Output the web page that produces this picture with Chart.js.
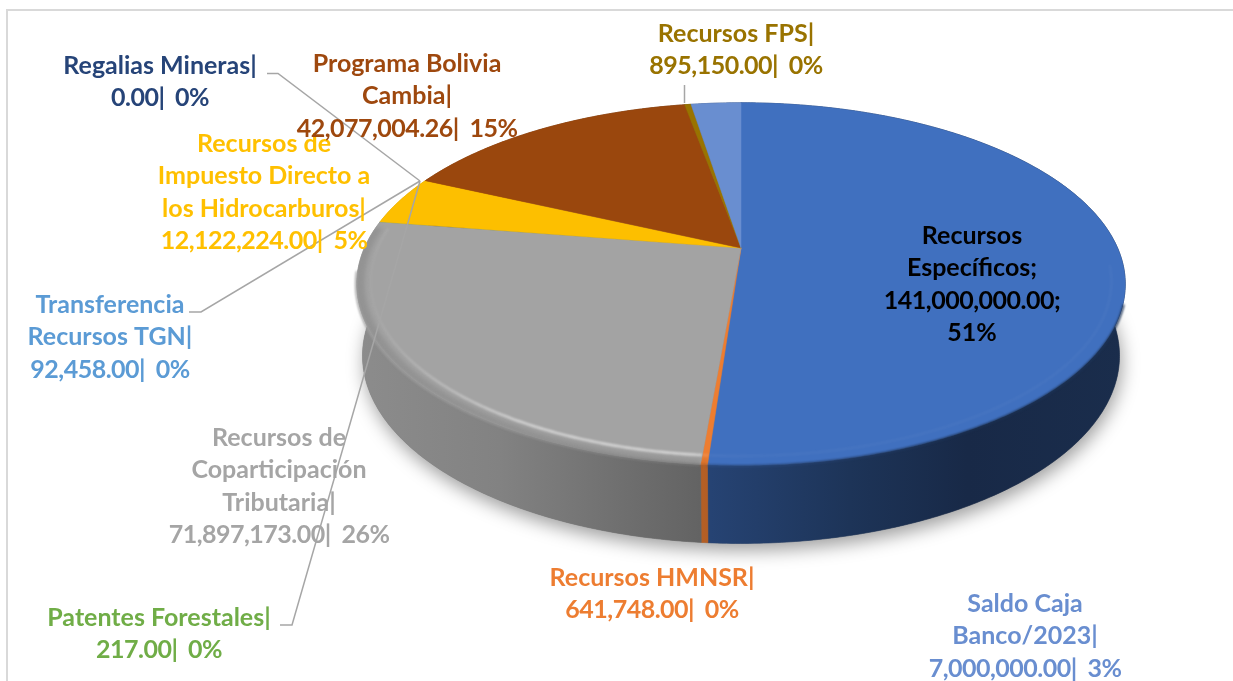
<!DOCTYPE html>
<html><head><meta charset="utf-8">
<style>html,body{margin:0;padding:0;background:#fff;overflow:hidden}canvas{display:block}</style>
<script src="https://cdn.jsdelivr.net/npm/chart.js@4/dist/chart.umd.min.js"></script>
</head><body><canvas id="c" width="1233" height="681"></canvas>
<script>
const categories=["Recursos Específicos","Recursos HMNSR","Recursos de Coparticipación Tributaria","Patentes Forestales","Transferencia Recursos TGN","Recursos de Impuesto Directo a los Hidrocarburos","Regalias Mineras","Programa Bolivia Cambia","Recursos FPS","Saldo Caja Banco/2023"];
const values=[141000000,641748,71897173,217,92458,12122224,0,42077004.26,895150,7000000];
const sliceColors=["#4070BF","#ED7D31","#A3A3A3","#70AD47","#5B9BD5","#FDBF00","#264478","#9A470D","#997300","#698ED0"];
const labelLines=[
 ["Recursos","Específicos;","141,000,000.00;","51%"],
 ["Recursos HMNSR|","641,748.00| 0%"],
 ["Recursos de","Coparticipación","Tributaria|","71,897,173.00| 26%"],
 ["Patentes Forestales|","217.00| 0%"],
 ["Transferencia","Recursos TGN|","92,458.00| 0%"],
 ["Recursos de","Impuesto Directo a","los Hidrocarburos|","12,122,224.00| 5%"],
 ["Regalias Mineras|","0.00| 0%"],
 ["Programa Bolivia","Cambia|","42,077,004.26| 15%"],
 ["Recursos FPS|","895,150.00| 0%"],
 ["Saldo Caja","Banco/2023|","7,000,000.00| 3%"]
];
const labelColors=["#000000","#ED7D31","#A5A5A5","#70AD47","#5B9BD5","#FFC000","#264478","#9E480E","#997300","#698ED0"];
// label anchors: centre x and first baseline
const labelAnchors=[[972,244],[652,586],[279,446],[159,626],[110,313],[264,152],[160,74],[407,72],[736,42],[1025,612]];
const LINE_H=32.4, FONT='bold 25px Lato';
const leaders=[[[267,73.5],[278,73.5],[420,181]],[[189,312],[201,312],[420,181]],[[280,625],[292,625],[420,181]],[[684.5,85],[684.5,103]]];
// projection of the pie disc
const K=0.199, CY_TOP=248, CY_BOT=318.4, SX=1.106, SY=0.5115, BOT_X=0.985, BOT_Y=1.035;
const shadeStops=[[357,.86],[500,.80],[700,.61],[710,.60],[850,.46],[967,.37],[1125,.40]];
const rimAlpha=[.06,.15,.6,0,0,0,0,0,0,0];

function rgb(h){return [1,3,5].map(i=>parseInt(h.substr(i,2),16));}
function shade(h,f){const c=rgb(h).map(v=>Math.min(255,Math.round(v*f)));return `rgb(${c[0]},${c[1]},${c[2]})`;}

const pie3d={id:'pie3d',
 beforeDraw(chart){
  const c=chart.ctx;c.save();c.fillStyle='#fff';c.fillRect(0,0,1233,681);
  c.fillStyle='#d9d9d9';c.fillRect(6,9,1227,2);c.fillRect(6,9,2,672);c.restore();
 },
 beforeDatasetsDraw(chart){
  const c=chart.ctx, arcs=chart.getDatasetMeta(0).data, a0=arcs[0];
  const cx=a0.x, rx=a0.outerRadius*SX, ry=a0.outerRadius*SY;
  const top=(a,t=1)=>{const u=Math.cos(a)*t,v=Math.sin(a)*t,w=1-K*v;return [cx+rx*u/w,CY_TOP+ry*v/w];};
  const bot=(a)=>{const u=Math.cos(a),v=Math.sin(a),w=1-K*v;return [cx+rx*BOT_X*u/w,CY_BOT+ry*BOT_Y*v/w];};
  const steps=(s,e)=>{const n=Math.max(1,Math.ceil((e-s)/0.01)),o=[];for(let i=0;i<=n;i++)o.push(s+(e-s)*i/n);return o;};
  const trace=(pts)=>pts.forEach((p,i)=>i?c.lineTo(p[0],p[1]):c.moveTo(p[0],p[1]));
  const wedge=(s,e)=>{c.beginPath();c.moveTo(cx,CY_TOP);steps(s,e).forEach(a=>{const p=top(a);c.lineTo(p[0],p[1]);});c.closePath();};
  const wallGrad=(i,boost)=>{const g=c.createLinearGradient(357,0,1125,0);
   shadeStops.forEach(([x,f])=>g.addColorStop((x-357)/768,shade(sliceColors[i],f*boost)));return g;};
  // soft drop shadow under the base
  c.save();c.shadowColor='rgba(0,0,0,.38)';c.shadowBlur=18;c.shadowOffsetY=7;c.shadowOffsetX=2;c.fillStyle='#777';
  c.beginPath();trace(steps(0,Math.PI*2).map(bot));c.closePath();c.fill();c.restore();
  // side wall
  arcs.forEach((arc,i)=>{
   if(arc.endAngle-arc.startAngle<=0.002)return;
   const as=steps(arc.startAngle,arc.endAngle);
   const g=wallGrad(i,i===1?1.25:1);
   c.fillStyle=g;c.strokeStyle=g;c.lineWidth=.6;
   c.beginPath();trace(as.map(a=>top(a)).concat(as.slice().reverse().map(bot)));c.closePath();c.fill();c.stroke();
  });
  // top face
  arcs.forEach((arc,i)=>{
   const span=arc.endAngle-arc.startAngle;
   if(span<=0)return;
   c.fillStyle=c.strokeStyle=sliceColors[i];c.lineWidth=.5;
   wedge(arc.startAngle,arc.endAngle);c.fill();
   if(span>0.005)c.stroke();
  });
  // bevel along the front of the rim
  const FS=0.1,FE=Math.PI+0.12;
  arcs.forEach((arc,i)=>{
   const s=Math.max(arc.startAngle,FS),e=Math.min(arc.endAngle,FE);
   if(e<=s||arc.endAngle-arc.startAngle<0.002)return;
   const as=steps(s,e);
   // soft edge into the wall
   c.save();wedge(arc.startAngle,arc.endAngle);c.clip();
   if(rimAlpha[i]>.1){
    c.filter='blur(2px)';
    c.beginPath();trace(as.map(a=>top(a,1.01)).concat(as.slice().reverse().map(a=>top(a,.98))));c.closePath();
    c.fillStyle=shade(sliceColors[i],.9);c.fill();
   }
   // highlight, fading away from the front
   if(rimAlpha[i]>0){
    c.filter='blur(1.2px)';
    const g=c.createLinearGradient(360,0,760,0),A=rimAlpha[i];
    g.addColorStop(0,'rgba(255,255,255,0)');g.addColorStop(.12,`rgba(255,255,255,${A*.25})`);
    g.addColorStop(.4,`rgba(255,255,255,${A*.9})`);g.addColorStop(.8,`rgba(255,255,255,${A})`);g.addColorStop(1,`rgba(255,255,255,${A*.6})`);
    c.strokeStyle=g;c.lineWidth=2.4;c.beginPath();trace(as.map(x=>top(x,.965)));c.stroke();
   }
   c.restore();
   c.save();c.filter='blur(1.2px)';c.lineWidth=2;c.strokeStyle=wallGrad(i,i===1?1.25:1.15);
   c.beginPath();trace(as.filter(a=>a>0.3&&a<Math.PI-0.12).map(a=>top(a,1.002)));c.stroke();c.restore();
  });
  return false;
 },
 afterDraw(chart){
  const c=chart.ctx;
  c.save();c.strokeStyle='#a6a6a6';c.lineWidth=1.5;c.lineJoin='miter';
  leaders.forEach(l=>{c.beginPath();l.forEach((p,i)=>i?c.lineTo(p[0],p[1]):c.moveTo(p[0],p[1]));c.stroke();});
  c.font=FONT;c.textAlign='center';c.textBaseline='alphabetic';
  labelLines.forEach((ls,i)=>{
   c.fillStyle=labelColors[i];
   ls.forEach((t,j)=>{
    const numeric=/^[\d,.]+[|;]/.test(t);
    c.letterSpacing=numeric?'-0.5px':'0px';
    c.wordSpacing=numeric?'5px':'0px';
    c.fillText(t,labelAnchors[i][0],labelAnchors[i][1]+j*LINE_H);
   });
  });
  c.restore();
 }
};
document.fonts.load(FONT).finally(()=>{
new Chart(document.getElementById('c'),{
 type:'pie',
 data:{labels:categories,datasets:[{data:values,backgroundColor:sliceColors,borderWidth:0}]},
 options:{responsive:false,animation:false,layout:{padding:{left:249}},
  plugins:{legend:{display:false},tooltip:{enabled:false}}},
 plugins:[pie3d]
});
});
</script></body></html>
